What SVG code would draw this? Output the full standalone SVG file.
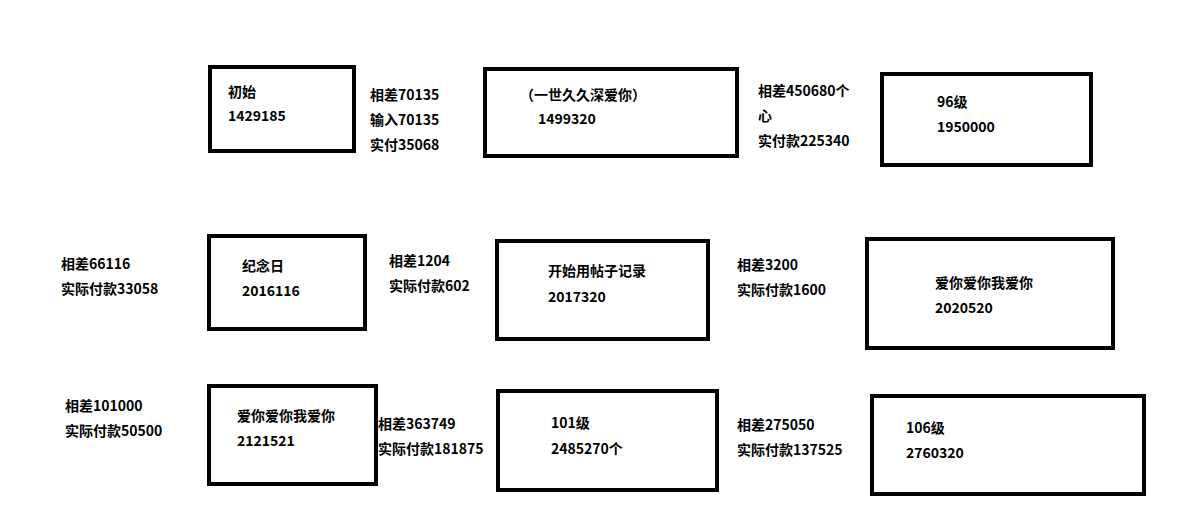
<svg xmlns="http://www.w3.org/2000/svg" width="1194" height="522" viewBox="0 0 1194 522">
<style>
rect{fill:none;stroke:#000;stroke-width:4}
text{font-family:"Noto Sans CJK SC","Liberation Sans",sans-serif;font-size:14px;font-weight:bold;fill:#000}
</style>
<rect x="0" y="0" width="1194" height="522" style="fill:#fff;stroke:none"/>
<g id="n1"><rect x="210" y="67" width="144" height="84"/><text x="228" y="97">初始</text><text x="228" y="121">1429185</text></g>
<g id="n2"><rect x="485" y="69" width="252" height="87"/><text x="520" y="100">（一世久久深爱你）</text><text x="538" y="124">1499320</text></g>
<g id="n3"><rect x="882" y="74" width="209" height="91"/><text x="937" y="107">96级</text><text x="937" y="132">1950000</text></g>
<g id="n4"><rect x="209" y="236" width="156" height="93"/><text x="242" y="271">纪念日</text><text x="242" y="296">2016116</text></g>
<g id="n5"><rect x="497" y="241" width="211" height="98"/><text x="548" y="276">开始用帖子记录</text><text x="548" y="302">2017320</text></g>
<g id="n6"><rect x="867" y="239" width="246" height="109"/><text x="935" y="288">爱你爱你我爱你</text><text x="935" y="313">2020520</text></g>
<g id="n7"><rect x="209" y="386" width="167" height="98"/><text x="237" y="421">爱你爱你我爱你</text><text x="237" y="446">2121521</text></g>
<g id="n8"><rect x="498" y="391" width="219" height="99"/><text x="551" y="428">101级</text><text x="551" y="454">2485270个</text></g>
<g id="n9"><rect x="872" y="396" width="272" height="98"/><text x="906" y="433">106级</text><text x="906" y="458">2760320</text></g>
<g id="labels">
<text x="370" y="100">相差70135</text><text x="370" y="125">输入70135</text><text x="370" y="150">实付35068</text>
<text x="758" y="96">相差450680个</text><text x="758" y="121">心</text><text x="758" y="146">实付款225340</text>
<text x="61" y="269">相差66116</text><text x="61" y="294">实际付款33058</text>
<text x="389" y="266">相差1204</text><text x="389" y="291">实际付款602</text>
<text x="737" y="270">相差3200</text><text x="737" y="295">实际付款1600</text>
<text x="65" y="411">相差101000</text><text x="65" y="436">实际付款50500</text>
<text x="378" y="429">相差363749</text><text x="378" y="454">实际付款181875</text>
<text x="737" y="430">相差275050</text><text x="737" y="455">实际付款137525</text>
</g>
</svg>
